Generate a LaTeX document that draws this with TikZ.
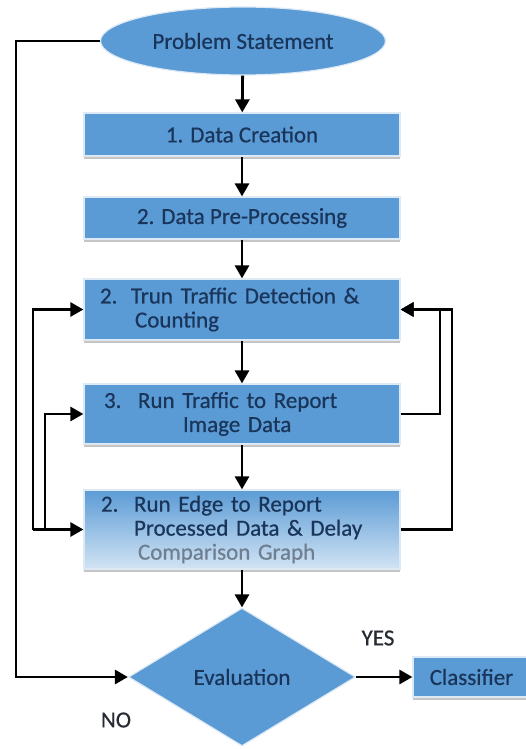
\documentclass[tikz,border=0pt]{standalone}
\usepackage{fontspec}
\setmainfont{Carlito}[FakeBold=0.6]
\usetikzlibrary{shapes.geometric,arrows.meta,shadows}
\definecolor{boxblue}{HTML}{5B9BD5}
\definecolor{navy}{HTML}{1A355A}
\definecolor{edgec}{HTML}{DDEAF6}
\definecolor{cgrey}{HTML}{6F7F90}
\definecolor{lblc}{HTML}{262B33}
\definecolor{fadeblue}{HTML}{D2E4F4}
\begin{document}
\begin{tikzpicture}[x=1pt,y=-1pt,
  txt/.style={font=\fontsize{23}{24}\selectfont},
  shp/.style={fill=boxblue, draw=edgec, line width=1.2pt, text=navy, inner sep=0pt, txt},
  box/.style={shp, rectangle, minimum width=316pt,
    drop shadow={shadow xshift=0pt, shadow yshift=-3pt, fill=black!45, opacity=0.5}},
  lbox/.style={box, text width=284pt, align=left, inner xsep=16pt},
  arr/.style={line width=2.8pt, -{Triangle[length=13pt,width=14pt]}},
  lbl/.style={txt, text=lblc}]
\useasboundingbox[fill=white] (0,0) rectangle (526,749);

\node[shp, ellipse, minimum width=285pt, minimum height=68pt] (ps) at (243,41) {Problem Statement};
\node[box, minimum height=43pt] (b1) at (242,134.5) {1. Data Creation};
\node[box, minimum height=42pt] (b2) at (242,218) {2. Data Pre-Processing};
\node[lbox, minimum height=61pt] (b3) at (242,309.5)
  {\makebox[31pt][l]{2.}Trun Traffic Detection \&\\\hspace*{35pt}Counting};
\node[lbox, minimum height=60pt] (b4) at (242,414)
  {\hspace*{4pt}\makebox[34pt][l]{3.}Run Traffic to Report\\\hspace*{83pt}Image Data};
\node[lbox, minimum height=79pt, top color=boxblue, middle color=boxblue!80!fadeblue, bottom color=fadeblue] (b5) at (242,529.5)
  {\hspace*{1pt}\makebox[33pt][l]{2.}Run Edge to Report\\\hspace*{34pt}Processed Data \& Delay\\\hspace*{38pt}{\color{cgrey}Comparison Graph}};
\node[shp, diamond, minimum width=227pt, minimum height=138pt] (ev) at (242,677) {Evaluation};
\node[box, minimum width=117pt, minimum height=40pt] (cl) at (471.5,677) {Classifier};
\node[lbl] (yes) at (378,638) {YES};
\node[lbl] (no) at (116,720) {NO};

\coordinate (lb) at (16,0);
\coordinate (lo) at (33,0);
\coordinate (li) at (45,0);
\coordinate (ri) at (440,0);
\coordinate (ro) at (452,0);

\draw[arr] (ps) -- (b1);
\draw[arr] (b1) -- (b2);
\draw[arr] (b2) -- (b3);
\draw[arr] (b3) -- (b4);
\draw[arr] (b4) -- (b5);
\draw[arr] (b5) -- (ev);
\draw[arr] (ev) -- (cl);

\draw[arr] (ps.west) -| (lb |- ev.west) -- (ev.west);

\draw[arr] (lo |- b5.west) -- (b5.west);
\draw[arr] (lo |- b5.west) |- (b3.west);
\draw[arr] (li |- b5.west) |- (b4.west);

\draw[arr] (b5.east) -| (ro |- b3.east) -- (b3.east);
\draw[arr] (b4.east) -| (ri |- b3.east) -- (b3.east);
\end{tikzpicture}
\end{document}
